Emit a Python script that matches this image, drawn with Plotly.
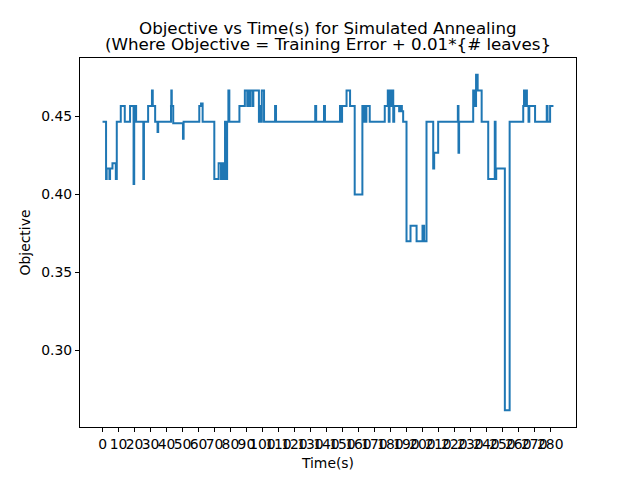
import plotly.graph_objects as go

# change points of the objective (value holds until the next time)
time_s = [0, 2.2, 2.6, 4.3, 4.7, 6.2, 8.3, 8.9, 11.4, 13.9, 17.2, 19.4, 19.8, 21.0,
          25.5, 25.9, 28.5, 30.9, 31.4, 32.9, 34.4, 34.8, 42.8, 43.0, 43.3, 44.2,
          50.3, 50.7, 60.5, 61.6, 62.6, 69.9, 72.6, 74.1, 75.1, 76.2, 76.6, 77.2,
          77.9, 78.7, 79.3, 85.6, 89.0, 90.5, 91.0, 92.0, 92.5, 93.9, 94.3, 97.8,
          98.4, 98.8, 99.6, 101.0, 107.9, 108.5, 133.0, 133.6, 138.5, 139.1, 148.5,
          149.3, 149.8, 152.6, 154.8, 157.7, 162.5, 163.0, 163.5, 164.2, 165.0,
          167.1, 176.5, 178.4, 179.0, 179.5, 180.3, 181.0, 181.8, 182.4, 185.5,
          186.6, 187.2, 188.0, 190.1, 192.6, 196.4, 200.1, 201.1, 202.6, 206.8,
          207.4, 209.9, 222.2, 222.6, 223.0, 231.8, 232.4, 233.6, 234.6, 237.1,
          241.2, 245.3, 245.8, 246.2, 251.6, 254.6, 263.1, 263.6, 264.3, 264.8,
          265.4, 266.4, 266.9, 270.5, 277.8, 278.3, 279.9, 282.0]
objective = [0.4467, 0.41, 0.4167, 0.41, 0.4167, 0.42, 0.41, 0.4467, 0.4567, 0.4467,
             0.4567, 0.4067, 0.4567, 0.4467, 0.41, 0.4467, 0.4567, 0.4667, 0.4567,
             0.4467, 0.44, 0.4467, 0.4567, 0.4667, 0.4567, 0.4457, 0.4357, 0.4467,
             0.4567, 0.4583, 0.4467, 0.41, 0.42, 0.41, 0.42, 0.41, 0.4467, 0.41,
             0.4467, 0.4667, 0.4467, 0.4567, 0.4667, 0.4567, 0.4667, 0.4567, 0.4667,
             0.4567, 0.4667, 0.4467, 0.4567, 0.4467, 0.4667, 0.4467, 0.4567, 0.4467,
             0.4567, 0.4467, 0.4567, 0.4467, 0.4567, 0.4467, 0.4567, 0.4667, 0.4567,
             0.40, 0.4567, 0.4467, 0.4567, 0.4467, 0.4567, 0.4467, 0.4567, 0.4667,
             0.4467, 0.4667, 0.4567, 0.4667, 0.4467, 0.4567, 0.4533, 0.4567, 0.4533,
             0.4467, 0.37, 0.38, 0.37, 0.38, 0.37, 0.4467, 0.4167, 0.4267, 0.4467,
             0.4567, 0.4267, 0.4467, 0.4667, 0.4567, 0.4767, 0.4667, 0.4467, 0.41,
             0.4467, 0.41, 0.4167, 0.2617, 0.4467, 0.4567, 0.4667, 0.4567, 0.4667,
             0.4567, 0.4467, 0.4567, 0.4467, 0.4567, 0.4467, 0.4567, 0.4567]

x_ticks = list(range(0, 290, 10))
y_ticks = [0.30, 0.35, 0.40, 0.45]
title_lines = ["Objective vs Time(s) for Simulated Annealing",
               "(Where Objective = Training Error + 0.01*{# leaves}"]

fig = go.Figure(go.Scatter(x=time_s, y=objective, mode="lines",
                           line=dict(color="#1f77b4", width=2, shape="hv")))

font = "DejaVu Sans, Liberation Sans, sans-serif"
axis = dict(showline=True, linecolor="black", linewidth=1, mirror=True,
            ticks="outside", ticklen=4, tickwidth=1, tickcolor="black",
            showgrid=False, zeroline=False, automargin=False,
            tickfont=dict(size=13.9, color="black"),
            title_font=dict(size=13.9, color="black"))

fig.update_xaxes(range=[-14.1, 296.1], tickvals=x_ticks, ticktext=[str(v) for v in x_ticks],
                 tickangle=0, title_text="Time(s)", title_standoff=7, **axis)
fig.update_yaxes(range=[0.2510, 0.4875], tickvals=y_ticks, tickformat=".2f",
                 title_text="Objective", title_standoff=7, **axis)

# the page adds an 8px body margin, so the margins are shifted by that amount
fig.update_layout(
    width=640, height=480,
    margin=dict(l=72, r=72, t=50, b=61, autoexpand=False),
    plot_bgcolor="white", paper_bgcolor="white",
    font=dict(family=font, size=13.9, color="black"),
    showlegend=False,
)
for line, shift in zip(title_lines, [30, 14]):
    fig.add_annotation(text=line, xref="paper", yref="paper", x=0.5, y=1,
                       xanchor="center", yanchor="middle", yshift=shift,
                       showarrow=False, font=dict(size=16.7, color="black"))

fig.write_html("out.html")
